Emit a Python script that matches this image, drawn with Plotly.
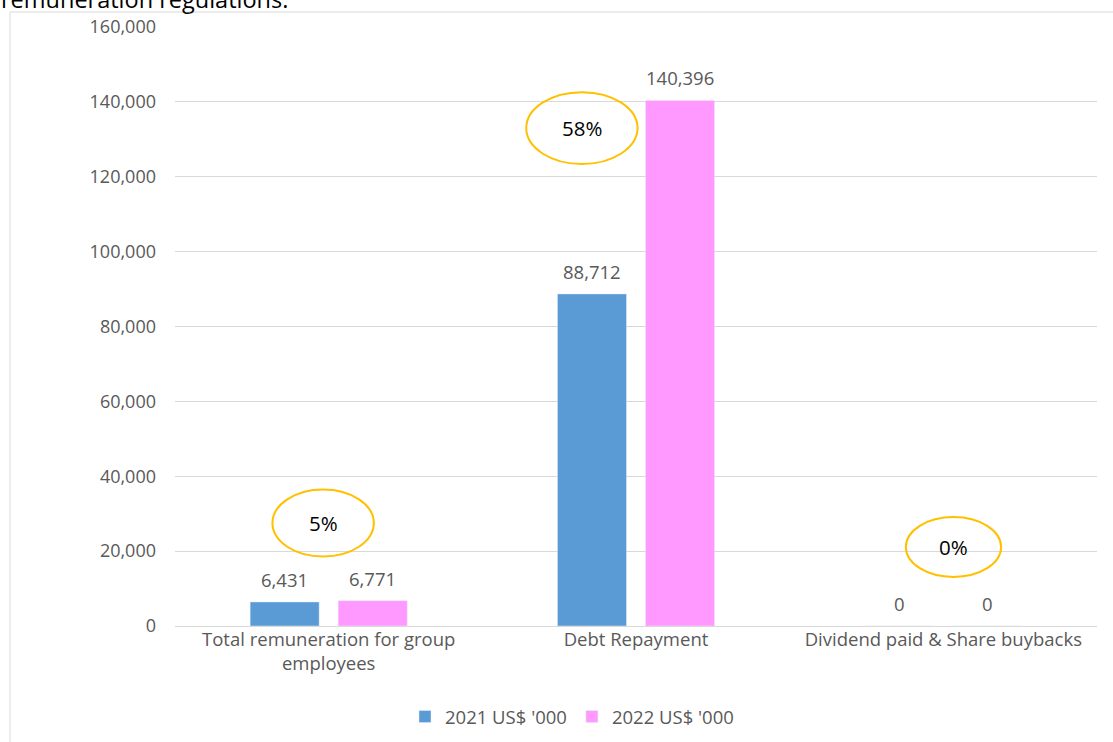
import plotly.graph_objects as go

categories = ["Total remuneration for group<br>employees", "Debt Repayment", "Dividend paid & Share buybacks"]
series_2021 = [6431, 88712, 0]
series_2022 = [6771, 140396, 0]
series_names = ["2021 US$ '000", "2022 US$ '000"]
change_labels = ["5%", "58%", "0%"]
tick_vals = [0, 20000, 40000, 60000, 80000, 100000, 120000, 140000, 160000]

# ellipse annotation positions (category index offset, y centre, half sizes)
ellipses = [
    (-0.018, 27500, 0.165, 8950),
    (0.824, 133000, 0.181, 9600),
    (2.033, 21100, 0.155, 8000),
]

W, H = 1113, 742
L, R, T, B = 175, 16, 27, 116
pw, ph = W - L - R, H - T - B

def px(x):
    return (x - L) / pw

def py(y):
    return (H - B - y) / ph

fig = go.Figure()
colors = ["#5B9BD5", "#FF99FF"]
annotations = []
for i, (name, vals, c) in enumerate(zip(series_names, [series_2021, series_2022], colors)):
    fig.add_trace(go.Bar(x=categories, y=vals, name=name, marker_color=c))
    for cat, v in zip(categories, vals):
        annotations.append(dict(x=cat, y=v, xref="x", yref="y", text=f"{v:,}",
                                showarrow=False, yanchor="bottom",
                                xshift=-44 if i == 0 else 44, yshift=8,
                                font=dict(color="#595959", size=18.5)))

shapes = []
for (xc, yc, hx, hy), lab in zip(ellipses, change_labels):
    shapes.append(dict(type="circle", xref="x", yref="y",
                       x0=xc - hx, x1=xc + hx, y0=yc - hy, y1=yc + hy,
                       line=dict(color="#FFC000", width=2)))
    annotations.append(dict(x=xc, y=yc, xref="x", yref="y", text=lab,
                            showarrow=False, font=dict(color="#000000", size=20.5)))

# chart border lines
shapes.append(dict(type="line", xref="paper", yref="paper",
                   x0=px(10), x1=px(1113), y0=py(12), y1=py(12),
                   line=dict(color="#D9D9D9", width=1)))
shapes.append(dict(type="line", xref="paper", yref="paper",
                   x0=px(10), x1=px(10), y0=py(12), y1=py(742),
                   line=dict(color="#D9D9D9", width=1)))

annotations.append(dict(x=px(0), y=py(16), xref="paper", yref="paper",
                        xanchor="left", yanchor="bottom", text="remuneration regulations.",
                        showarrow=False, borderpad=0,
                        font=dict(color="#000000", size=23.5)))

fig.update_layout(
    width=W, height=H,
    margin=dict(l=L, r=R, t=T, b=B, autoexpand=False),
    paper_bgcolor="white", plot_bgcolor="white",
    font=dict(family="Open Sans, Noto Sans, sans-serif", color="#595959", size=18),
    barmode="group", bargap=0.427, bargroupgap=0.216,
    showlegend=True,
    legend=dict(orientation="h", x=px(572), xanchor="center", y=py(717), yanchor="middle",
                font=dict(size=18.5, color="#595959"), itemwidth=30),
    shapes=shapes, annotations=annotations,
    xaxis=dict(showline=False, ticks="", automargin=False,
               tickfont=dict(size=18.5, color="#595959")),
    yaxis=dict(range=[0, 160000], tickvals=tick_vals,
               ticktext=[f"{v:,}" for v in tick_vals], automargin=False,
               showgrid=True, gridcolor="#D9D9D9", gridwidth=1.3,
               zeroline=True, zerolinecolor="#D9D9D9", zerolinewidth=1.3,
               showline=False, ticks="", ticklabelstandoff=18,
               tickfont=dict(size=18, color="#595959")),
)

fig.write_html("out.html", config={"displayModeBar": False},
               post_script="document.body.style.margin='0';document.body.style.overflow='hidden';")
